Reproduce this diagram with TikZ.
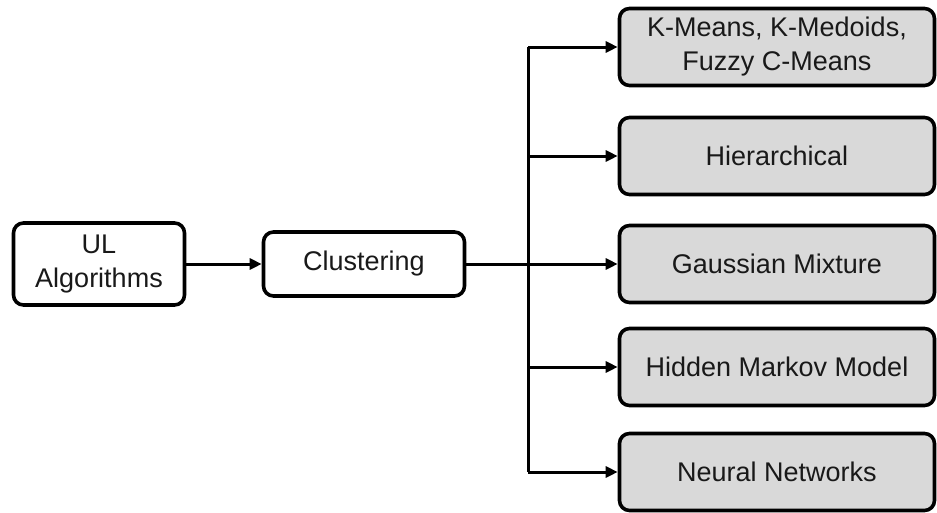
\documentclass[tikz,border=0pt]{standalone}
\usepackage{fontspec}
\setmainfont{Liberation Sans}
\usetikzlibrary{arrows.meta}
\begin{document}
\begin{tikzpicture}[x=1pt,y=-1pt,
  txt/.style={font=\fontsize{27}{34}\selectfont, align=center, text=black!90},
  whitebox/.style={txt, draw, line width=3.6pt, rounded corners=10pt, fill=white, inner sep=0pt},
  graybox/.style={whitebox, fill=black!15, minimum width=315pt, minimum height=77pt},
  link/.style={line width=3pt, -{Triangle[length=12pt,width=11pt]}},
  wire/.style={line width=3pt}]
\useasboundingbox (0,0) rectangle (937,512);

% left side
\node[whitebox, minimum width=171pt, minimum height=82pt] (ul) at (99,264) {UL\\Algorithms};
\node[whitebox, minimum width=201pt, minimum height=64pt] (cl) at (364,264) {Clustering};

% right column of methods
\node[graybox] (km) at (777,47)  {K-Means, K-Medoids,\\Fuzzy C-Means};
\node[graybox] (hi) at (777,156) {Hierarchical};
\node[graybox] (gm) at (777,264) {Gaussian Mixture};
\node[graybox] (hm) at (777,367) {Hidden Markov Model};
\node[graybox] (nn) at (777,472) {Neural Networks};

% connectors
\draw[link] (ul) -- (cl);
\coordinate (trunk) at (528,264);
\draw[wire] (cl.east) -- (trunk);
\draw[wire] (trunk |- km.west) -- (trunk |- nn.west);
\foreach \b in {km,hi,gm,hm,nn}
  \draw[link] (trunk |- \b.west) -- (\b.west);
\end{tikzpicture}
\end{document}
